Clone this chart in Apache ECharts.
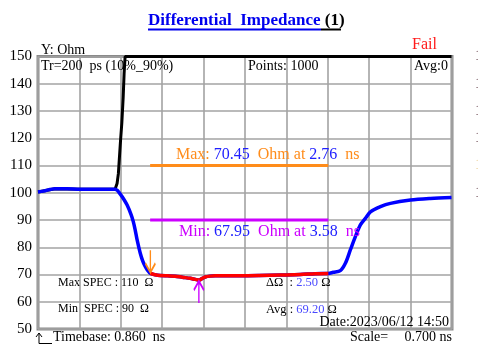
<!DOCTYPE html>
<html>
<head>
<meta charset="utf-8">
<script src="https://cdn.jsdelivr.net/npm/echarts@6/dist/echarts.min.js"></script>
<style>html,body{margin:0;padding:0;background:#fff;}#c{width:478px;height:360px;}</style>
</head>
<body>
<div id="c"></div>
<script>
// ---- data (time in ns, impedance in Ohm) ----
const timebase = 0.86;      // ns
const scaleNs = 0.7;        // ns per division
const divisions = 10;
const yTicks = [50, 60, 70, 80, 90, 100, 110, 120, 130, 140, 150];

const blueTime = [0.86, 0.95, 1.148, 1.35, 1.571, 1.9, 2.163, 2.2, 2.248, 2.3, 2.367, 2.434, 2.47, 2.502, 2.536, 2.587, 2.63, 2.671, 2.71, 2.756,
  2.84, 2.925, 3.05, 3.179, 3.3, 3.433, 3.52, 3.586, 3.64, 3.687, 3.77, 3.856, 4.28, 4.6, 4.957, 5.295, 5.549, 5.769,
  5.85, 5.972, 6.057, 6.141, 6.226, 6.311, 6.396, 6.481, 6.65, 6.819, 7.158, 7.496, 7.852];
const blueOhm = [100.3, 100.6, 101.5, 101.5, 101.3, 101.3, 101.3, 100.9, 99.6, 98.0, 95.5, 92.0, 89.5, 86.5, 82.7, 78.0, 75.0, 73.0, 71.6, 70.45,
  69.9, 69.6, 69.5, 69.4, 69.0, 68.6, 68.2, 67.95, 68.6, 69.1, 69.4, 69.5, 69.5, 69.6, 69.8, 70.0, 70.3, 70.4,
  70.8, 71.4, 74.1, 79.0, 83.9, 88.2, 90.6, 93.0, 94.9, 96.1, 97.3, 97.9, 98.3];

const redTime = [2.756, 2.84, 2.925, 3.05, 3.179, 3.3, 3.433, 3.52, 3.586, 3.64, 3.687, 3.77, 3.856, 4.28, 4.6, 4.957, 5.295, 5.549, 5.769];
const redOhm  = [70.45, 69.9, 69.6, 69.5, 69.4, 69.0, 68.6, 68.2, 67.95, 68.6, 69.1, 69.4, 69.5, 69.5, 69.6, 69.8, 70.0, 70.3, 70.4];

const blackTime = [0.86, 1.148, 1.571, 2.163, 2.197, 2.219, 2.231, 2.256, 2.277, 2.3, 2.316, 2.333, 7.852];
const blackOhm  = [100.3, 101.5, 101.3, 101.3, 103.4, 107.0, 111.0, 119.3, 125.5, 135.0, 143.8, 150.0, 150.0];

const specTime = [2.756, 5.769];
const maxSpec = 110;
const minSpec = 90;

const maxPoint = [2.76, 70.45];
const minPoint = [3.58, 67.95];

// ---- helpers ----
const toXY = (ts, vs) => ts.map((t, i) => [t - timebase, vs[i]]);
const serif = '"Liberation Serif", "Times New Roman", serif';

const chart = echarts.init(document.getElementById('c'), null, {renderer: 'canvas'});

function txt(x, y, text, size, color, align, rich, weight) {
  const s = {text: text, x: 0, y: 0, fontSize: size, fontFamily: serif, fill: color || '#000',
    align: align || 'left', verticalAlign: 'middle'};
  if (weight) s.fontWeight = weight;
  if (rich) s.rich = rich;
  return {type: 'text', x: x, y: y, z: 100, style: s};
}
function rs(color, size, weight) {
  const o = {fill: color, color: color, fontSize: size, fontFamily: serif};
  if (weight) o.fontWeight = weight;
  return o;
}

const orange = '#ff8c1a';
const magenta = '#cc00ff';
const txtBlue = '#2020ff';

const option = {
  animation: false,
  backgroundColor: '#fff',
  grid: {left: 38, right: 26, top: 56.5, bottom: 31, show: true, borderColor: '#8a8a8a', borderWidth: 3,
    backgroundColor: 'transparent', containLabel: false, outerBoundsMode: 'none'},
  xAxis: {
    type: 'value', min: 0, max: divisions * scaleNs, interval: scaleNs,
    axisLine: {show: false}, axisTick: {show: false}, axisLabel: {show: false},
    splitLine: {show: true, lineStyle: {color: '#a3a3a3', width: 1.6}}
  },
  yAxis: [{
    type: 'value', min: yTicks[0], max: yTicks[yTicks.length - 1], interval: 10,
    axisLine: {show: false}, axisTick: {show: false},
    axisLabel: {color: '#000', fontSize: 15, fontFamily: serif, margin: 6},
    splitLine: {show: true, lineStyle: {color: '#a3a3a3', width: 1.6}}
  }, {
    type: 'value', position: 'right', min: yTicks[0], max: yTicks[yTicks.length - 1], interval: 10,
    axisLine: {show: false}, axisTick: {show: false}, splitLine: {show: false},
    axisLabel: {
      margin: 23, fontSize: 15, fontFamily: serif, align: 'left',
      formatter: v => v === 110 ? '{y|' + v + '}' : (v >= 100 ? '{d|' + v + '}' : ''),
      rich: {d: {color: '#3a0c18', fontSize: 15, fontFamily: serif}, y: {color: '#e6c27a', fontSize: 15, fontFamily: serif}}
    }
  }],
  series: [
    {type: 'line', data: toXY(blackTime, blackOhm), showSymbol: false, lineStyle: {color: '#000', width: 3}, z: 2, clip: true},
    {type: 'line', data: toXY(blueTime, blueOhm), showSymbol: false, smooth: 0.3, lineStyle: {color: '#0000ff', width: 3.5}, z: 3},
    {type: 'line', data: toXY(redTime, redOhm), showSymbol: false, smooth: 0.3, lineStyle: {color: '#ff0000', width: 3.5}, z: 4,
      markPoint: {
        silent: true,
        data: [
          {coord: [maxPoint[0] - timebase, maxPoint[1]], symbol: 'path://M5,0 L5,22 M0,13 L5,22 L10,13', symbolSize: [10, 22], symbolOffset: [0, -12],
            itemStyle: {color: 'none', borderColor: orange, borderWidth: 2}, label: {show: false}},
          {coord: [minPoint[0] - timebase, minPoint[1]], symbol: 'path://M5,22 L5,0 M0,9 L5,0 L10,9', symbolSize: [10, 22], symbolOffset: [0, 12],
            itemStyle: {color: 'none', borderColor: magenta, borderWidth: 2}, label: {show: false}}
        ]
      }},
    {type: 'line', data: toXY(specTime, [maxSpec, maxSpec]), showSymbol: false, lineStyle: {color: orange, width: 3}, z: 3},
    {type: 'line', data: toXY(specTime, [minSpec, minSpec]), showSymbol: false, lineStyle: {color: magenta, width: 3}, z: 3}
  ],
  graphic: [
    txt(148, 21, '{a|Differential  Impedance} {b|(1)}', 17, '#0000ff', 'left',
      {a: rs('#0000ee', 17, 'bold'), b: rs('#000', 17, 'bold')}, 'bold'),
    {type: 'line', z: 100, shape: {x1: 148, y1: 29.5, x2: 321, y2: 29.5}, style: {stroke: '#0000ee', lineWidth: 2}},
    {type: 'line', z: 100, shape: {x1: 321, y1: 29.5, x2: 341, y2: 29.5}, style: {stroke: '#000', lineWidth: 2}},
    txt(412, 45, 'Fail', 16, '#ff1a1a'),
    txt(41, 50, 'Y: Ohm', 14, '#000'),
    txt(41, 66, 'Tr=200  ps (10%_90%)', 14, '#000'),
    txt(248, 66, 'Points: 1000', 14, '#000'),
    txt(448, 66, 'Avg:0', 14, '#000', 'right'),
    txt(176, 155, '{o|Max:} {b|70.45}  {o|Ohm at} {b|2.76}  {o|ns}', 16, orange, 'left',
      {o: rs(orange, 16), b: rs(txtBlue, 16)}),
    txt(179, 232, '{o|Min:} {b|67.95}  {o|Ohm at} {b|3.58}  {o|ns}', 16, magenta, 'left',
      {o: rs(magenta, 16), b: rs(txtBlue, 16)}),
    txt(58, 283, 'Max SPEC : 110  Ω', 12, '#000'),
    txt(58, 309, 'Min  SPEC : 90  Ω', 12, '#000'),
    txt(266, 283, '{k|ΔΩ  :} {b|2.50} {k|Ω}', 12.5, '#000', 'left', {k: rs('#000', 12.5), b: rs('#4a4aff', 12.5)}),
    txt(266, 310, '{k|Avg :} {b|69.20} {k|Ω}', 12.5, '#000', 'left', {k: rs('#000', 12.5), b: rs('#4a4aff', 12.5)}),
    txt(449, 322, 'Date:2023/06/12 14:50', 14, '#000', 'right'),
    txt(53, 337, 'Timebase: 0.860  ns', 14, '#000'),
    txt(350, 337, 'Scale=', 14, '#000'),
    txt(452, 337, '0.700 ns', 14, '#000', 'right'),
    {type: 'polyline', z: 100, shape: {points: [[39, 333], [39, 343.5], [52, 343.5]]}, style: {stroke: '#000', lineWidth: 1, fill: 'none'}},
    {type: 'polyline', z: 100, shape: {points: [[36, 337], [39, 333], [42, 337]]}, style: {stroke: '#000', lineWidth: 1, fill: 'none'}}
  ]
};
chart.setOption(option);
</script>
</body>
</html>
